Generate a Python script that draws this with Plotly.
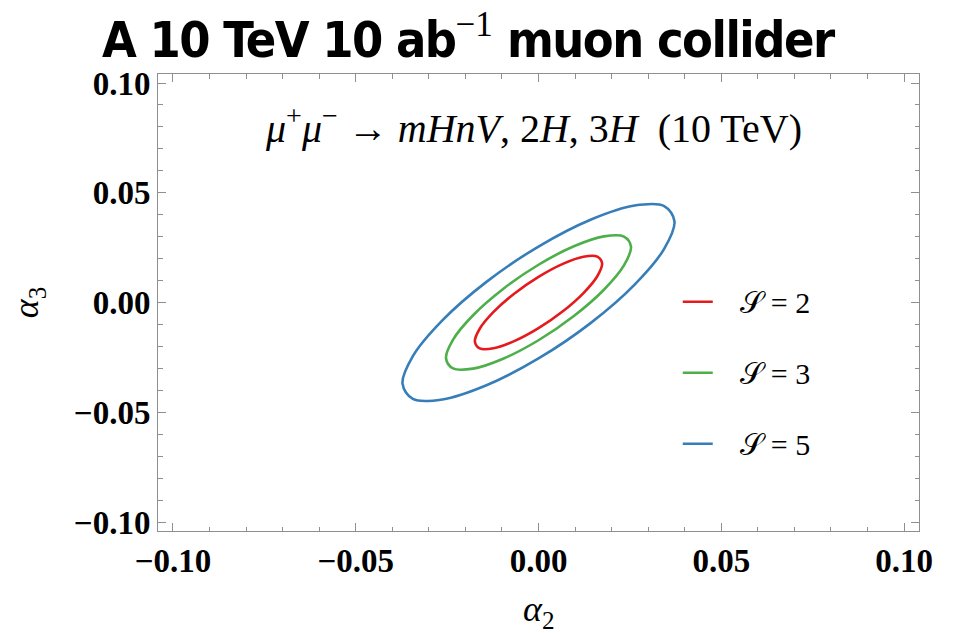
import plotly.graph_objects as go

# Confidence contours in the (alpha_2, alpha_3) plane
S2_A2 = [0.0174, 0.01608, 0.01230, 0.00666, 0.0, -0.00666, -0.01230, -0.01608,
         -0.0174, -0.01608, -0.01230, -0.00666, 0.0, 0.00666, 0.01230, 0.01608, 0.0174]
S2_A3 = [0.0178, 0.02092, 0.02086, 0.01762, 0.0117, 0.00400, -0.00431, -0.01197,
         -0.0178, -0.02092, -0.02086, -0.01762, -0.0117, -0.00400, 0.00431, 0.01197, 0.0178]

S3_A2 = [0.0253, 0.02337, 0.01789, 0.00968, 0.0, -0.00968, -0.01789, -0.02337,
         -0.0253, -0.02337, -0.01789, -0.00968, 0.0, 0.00968, 0.01789, 0.02337, 0.0253]
S3_A3 = [0.0254, 0.03005, 0.03012, 0.02561, 0.0172, 0.00617, -0.00580, -0.01689,
         -0.0254, -0.03005, -0.03012, -0.02561, -0.0172, -0.00617, 0.00580, 0.01689, 0.0254]

S5_A2 = [0.0372, 0.03437, 0.02630, 0.01424, 0.0, -0.01424, -0.02630, -0.03437,
         -0.0372, -0.03437, -0.02630, -0.01424, 0.0, 0.01424, 0.02630, 0.03437, 0.0372]
S5_A3 = [0.0370, 0.04394, 0.04419, 0.03772, 0.0255, 0.00940, -0.00813, -0.02443,
         -0.0370, -0.04394, -0.04419, -0.03772, -0.0255, -0.00940, 0.00813, 0.02443, 0.0370]

SERIES_NAMES = ["𝒮 = 2", "𝒮 = 3", "𝒮 = 5"]
SERIES_COLORS = ["#e41a1c", "#4daf4a", "#377eb8"]

TICK_VALS = [-0.10, -0.05, 0.00, 0.05, 0.10]
TICK_TEXT = ["−0.10", "−0.05", "0.00", "0.05", "0.10"]

SERIF = "Liberation Serif"
FRAME = "#8f8f8f"

fig = go.Figure()
for i, (xs, ys) in enumerate([(S2_A2, S2_A3), (S3_A2, S3_A3), (S5_A2, S5_A3)]):
    fig.add_trace(go.Scatter(
        x=xs, y=ys, mode="lines", name="   " + SERIES_NAMES[i],
        line=dict(color=SERIES_COLORS[i], width=2.6, shape="spline", smoothing=1.0),
        legendgroup=f"g{i}",
    ))

axis_common = dict(
    range=[-0.1041, 0.1041],
    tickmode="array", tickvals=TICK_VALS, ticktext=TICK_TEXT,
    ticks="inside", ticklen=8, tickwidth=1, tickcolor=FRAME,
    minor=dict(dtick=0.01, tick0=0, ticks="inside", ticklen=4.5, tickwidth=1, tickcolor=FRAME),
    showline=True, linecolor=FRAME, linewidth=1, mirror="ticks",
    showgrid=False, zeroline=False,
    tickfont=dict(family=SERIF, size=33, color="black", weight="bold"),
)

fig.update_layout(
    width=956, height=633, autosize=False,
    margin=dict(l=158, r=37, t=74, b=102),
    paper_bgcolor="white", plot_bgcolor="white",
    xaxis=axis_common,
    yaxis=axis_common,
    showlegend=True,
    legend=dict(
        x=0.683, y=0.5585, xanchor="left", yanchor="top",
        font=dict(family=SERIF, size=30, color="black"),
        tracegroupgap=29, bgcolor="rgba(0,0,0,0)",
    ),
)

TITLE_STYLE = "font-stretch:condensed; letter-spacing:-1.5px"
fig.add_annotation(
    xref="paper", yref="paper", x=0.4087, y=1.082, xanchor="center", yanchor="middle",
    text=(f"<span style=\"{TITLE_STYLE}\">A 10 TeV 10 ab</span>"
          "<sup><span style=\"font-family:'Liberation Serif'; font-weight:normal\">−1</span></sup>"
          f"<span style=\"{TITLE_STYLE}\"> muon collider</span>"),
    showarrow=False,
    font=dict(family="DejaVu Sans Condensed, DejaVu Sans, sans-serif", size=50,
              color="black", weight="bold"),
)

fig.add_annotation(
    xref="paper", yref="paper", x=0.4935, y=0.887, xanchor="center", yanchor="middle",
    text="<i>μ</i><sup>+</sup><i>μ</i><sup>−</sup> → <i>mHnV</i>, 2<i>H</i>, 3<i>H</i>  (10 TeV)",
    showarrow=False,
    font=dict(family=SERIF, size=40, color="black"),
)

fig.add_annotation(
    xref="paper", yref="paper", x=0.5, y=-0.177, xanchor="center", yanchor="middle",
    text="<i>α</i><sub>2</sub>", showarrow=False,
    font=dict(family=SERIF, size=36, color="black"),
)
fig.add_annotation(
    xref="paper", yref="paper", x=-0.17, y=0.5, xanchor="center", yanchor="middle",
    text="<i>α</i><sub>3</sub>", showarrow=False, textangle=-90,
    font=dict(family=SERIF, size=36, color="black"),
)

fig.write_html("out.html")
